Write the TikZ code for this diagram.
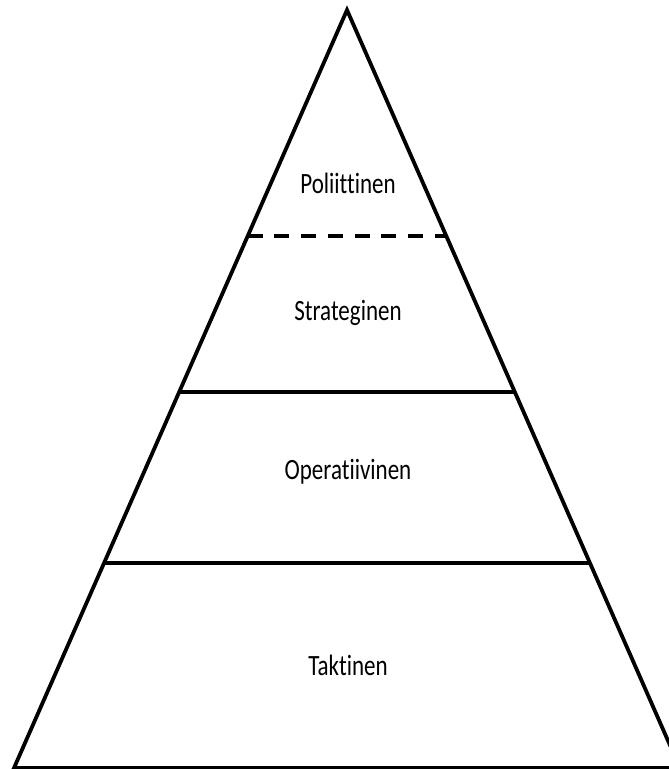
\documentclass[tikz,border=0pt]{standalone}
\usepackage{fontspec}
\setmainfont{Carlito}[RawFeature=-liga]
\usetikzlibrary{calc}

\begin{document}
\begin{tikzpicture}[x=1pt,y=-1pt,
  side/.style={line width=3.8pt, line join=miter},
  level/.style={font=\fontsize{23}{27}\selectfont, yscale=1.28, inner sep=0pt}]
\useasboundingbox (0,0) rectangle (669,769);
\fill[white] (0,0) rectangle (669,769);

\coordinate (top) at (347,10);
\coordinate (bl) at (14,768);
\coordinate (br) at (680,768);

\coordinate (p1l) at ($(top)!0.298!(bl)$);
\coordinate (p1r) at ($(top)!0.298!(br)$);
\coordinate (p2l) at ($(top)!0.504!(bl)$);
\coordinate (p2r) at ($(top)!0.504!(br)$);
\coordinate (p3l) at ($(top)!0.7296!(bl)$);
\coordinate (p3r) at ($(top)!0.7296!(br)$);

\draw[side] (bl) -- (top) -- (br) -- cycle;
\draw[line width=4pt, dash pattern=on 15pt off 11.7pt] (p1l) -- (p1r);
\draw[side] (p2l) -- (p2r);
\draw[side] (p3l) -- (p3r);

\node[level] (pol) at (348,183) {Poliittinen};
\node[level] (str) at (348,313) {Strateginen};
\node[level] (ope) at (348,472) {Operatiivinen};
\node[level] (tak) at (348,665) {Taktinen};
\end{tikzpicture}
\end{document}
